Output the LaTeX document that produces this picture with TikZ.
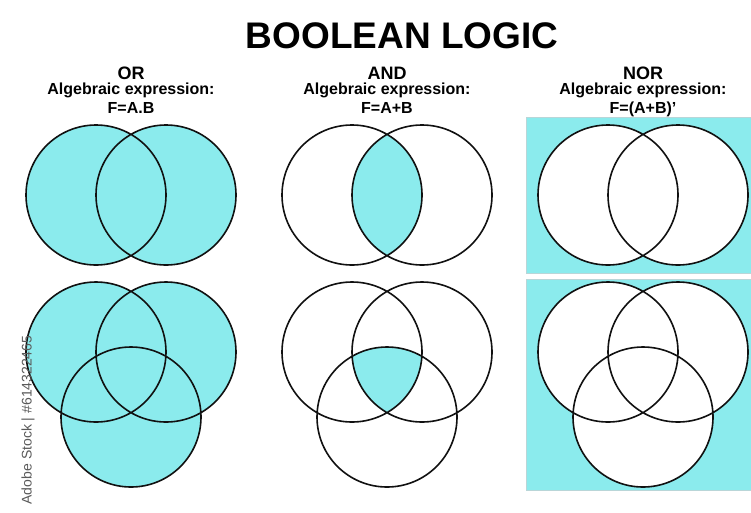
\documentclass[tikz,border=0pt]{standalone}
\usepackage{fontspec}
\setmainfont{Liberation Sans}
\usepackage{xcolor}
\usepackage{tikz}
\usetikzlibrary{positioning}
\definecolor{venn}{HTML}{8BEBED}
\definecolor{paneledge}{HTML}{B9D6D8}
\definecolor{ink}{HTML}{111111}
\definecolor{stampgray}{HTML}{5A5A5A}

\begin{document}
\begin{tikzpicture}[
  x=1pt,y=-1pt,
  title/.style={font=\fontsize{37}{37}\selectfont\bfseries,anchor=base,inner sep=0pt},
  opname/.style={font=\fontsize{18}{18}\selectfont\bfseries,anchor=base,inner sep=0pt},
  expr/.style={font=\fontsize{16}{16}\selectfont\bfseries,anchor=base,inner sep=0pt},
  ring/.style={draw=ink,line width=1.6pt},
  panel/.style={fill=venn,draw=paneledge,line width=0.8pt},
  stamp/.style={text=stampgray,font=\fontsize{14}{14}\selectfont,rotate=90,inner sep=0pt}
]
\useasboundingbox[fill=white] (0,0) rectangle (751,512);

% circle centres, one column every 256px
\foreach \ox/\col in {0/or,256/and,512/nor} {
  \coordinate (\col A) at (\ox+96,195);
  \coordinate (\col B) at (\ox+166,195);
  \coordinate (\col P) at (\ox+96,352);
  \coordinate (\col Q) at (\ox+166,352);
  \coordinate (\col R) at (\ox+131,417);
}
\def\rad{70}

% headings
\node[title] (title) at (402,48) {BOOLEAN LOGIC};
\foreach \cx/\col/\name/\fx in {131/or/OR/F=A.B,387/and/AND/F=A+B,643/nor/NOR/F=(A+B)’} {
  \node[opname] (\col name) at (\cx,79) {\name};
  \node[expr] (\col alg) at (\cx,94) {Algebraic expression:};
  \node[expr] (\col fx) at (\cx,113) {\fx};
}

% NOR: everything outside the circles
\draw[panel] (526,117) rectangle (751,273);
\draw[panel] (526,279) rectangle (751,490);
\fill[white] (norA) circle (\rad) (norB) circle (\rad);
\fill[white] (norP) circle (\rad) (norQ) circle (\rad) (norR) circle (\rad);

% OR: union
\fill[venn] (orA) circle (\rad) (orB) circle (\rad);
\fill[venn] (orP) circle (\rad) (orQ) circle (\rad) (orR) circle (\rad);

% AND: intersection
\begin{scope}
  \clip (andA) circle (\rad);
  \fill[venn] (andB) circle (\rad);
\end{scope}
\begin{scope}
  \clip (andP) circle (\rad);
  \clip (andQ) circle (\rad);
  \fill[venn] (andR) circle (\rad);
\end{scope}

% outlines
\foreach \col in {or,and,nor} {
  \draw[ring] (\col A) circle (\rad) (\col B) circle (\rad);
  \draw[ring] (\col P) circle (\rad) (\col Q) circle (\rad) (\col R) circle (\rad);
}

\node[stamp] (stock) at (28,420) {Adobe Stock | \#614322465};
\end{tikzpicture}
\end{document}
